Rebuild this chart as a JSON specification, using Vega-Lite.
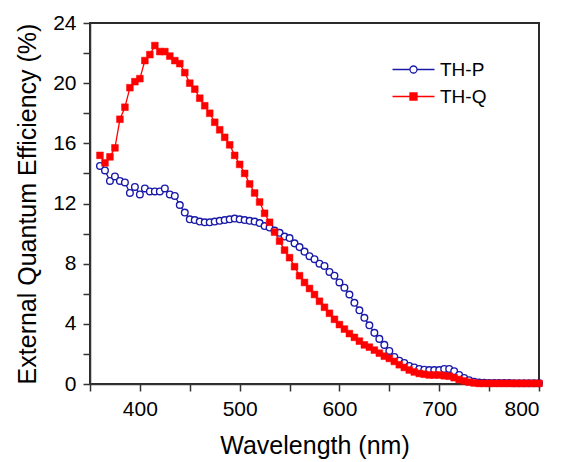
{
  "$schema": "https://vega.github.io/schema/vega-lite/v6.json",
  "width": 449,
  "height": 361,
  "autosize": {"type": "none"},
  "padding": {"left": 90, "top": 23, "right": 22, "bottom": 78},
  "background": "white",
  "config": {
    "view": {"stroke": "#2b2b2b", "strokeWidth": 2},
    "axis": {
      "domainColor": "#333333",
      "domainWidth": 1.5,
      "tickColor": "#333333",
      "tickWidth": 1.5,
      "labelFont": "Liberation Sans",
      "labelFontSize": 21,
      "labelColor": "#000000",
      "titleFont": "Liberation Sans",
      "titleFontSize": 25,
      "titleFontWeight": "normal",
      "titleColor": "#000000"
    }
  },
  "data": {
    "values": [
      {"wl":360,"eqe":14.5,"s":"TH-P"},{"wl":365,"eqe":14.2,"s":"TH-P"},{"wl":370,"eqe":13.5,"s":"TH-P"},{"wl":375,"eqe":13.8,"s":"TH-P"},{"wl":380,"eqe":13.5,"s":"TH-P"},{"wl":385,"eqe":13.4,"s":"TH-P"},{"wl":390,"eqe":12.7,"s":"TH-P"},{"wl":395,"eqe":13.1,"s":"TH-P"},{"wl":400,"eqe":12.6,"s":"TH-P"},{"wl":405,"eqe":13.0,"s":"TH-P"},{"wl":410,"eqe":12.8,"s":"TH-P"},{"wl":415,"eqe":12.8,"s":"TH-P"},{"wl":420,"eqe":12.8,"s":"TH-P"},{"wl":425,"eqe":13.0,"s":"TH-P"},{"wl":430,"eqe":12.6,"s":"TH-P"},{"wl":435,"eqe":12.5,"s":"TH-P"},{"wl":440,"eqe":11.9,"s":"TH-P"},{"wl":445,"eqe":11.4,"s":"TH-P"},{"wl":450,"eqe":10.95,"s":"TH-P"},{"wl":455,"eqe":10.9,"s":"TH-P"},{"wl":460,"eqe":10.8,"s":"TH-P"},{"wl":465,"eqe":10.75,"s":"TH-P"},{"wl":470,"eqe":10.75,"s":"TH-P"},{"wl":475,"eqe":10.8,"s":"TH-P"},{"wl":480,"eqe":10.85,"s":"TH-P"},{"wl":485,"eqe":10.9,"s":"TH-P"},{"wl":490,"eqe":10.95,"s":"TH-P"},{"wl":495,"eqe":11.0,"s":"TH-P"},{"wl":500,"eqe":10.95,"s":"TH-P"},{"wl":505,"eqe":10.9,"s":"TH-P"},{"wl":510,"eqe":10.85,"s":"TH-P"},{"wl":515,"eqe":10.8,"s":"TH-P"},{"wl":520,"eqe":10.7,"s":"TH-P"},{"wl":525,"eqe":10.5,"s":"TH-P"},{"wl":530,"eqe":10.4,"s":"TH-P"},{"wl":535,"eqe":10.2,"s":"TH-P"},{"wl":540,"eqe":10.05,"s":"TH-P"},{"wl":545,"eqe":9.8,"s":"TH-P"},{"wl":550,"eqe":9.7,"s":"TH-P"},{"wl":555,"eqe":9.35,"s":"TH-P"},{"wl":560,"eqe":9.1,"s":"TH-P"},{"wl":565,"eqe":8.8,"s":"TH-P"},{"wl":570,"eqe":8.5,"s":"TH-P"},{"wl":575,"eqe":8.3,"s":"TH-P"},{"wl":580,"eqe":8.0,"s":"TH-P"},{"wl":585,"eqe":7.85,"s":"TH-P"},{"wl":590,"eqe":7.45,"s":"TH-P"},{"wl":595,"eqe":7.2,"s":"TH-P"},{"wl":600,"eqe":6.75,"s":"TH-P"},{"wl":605,"eqe":6.4,"s":"TH-P"},{"wl":610,"eqe":5.95,"s":"TH-P"},{"wl":615,"eqe":5.4,"s":"TH-P"},{"wl":620,"eqe":4.9,"s":"TH-P"},{"wl":625,"eqe":4.4,"s":"TH-P"},{"wl":630,"eqe":3.9,"s":"TH-P"},{"wl":635,"eqe":3.4,"s":"TH-P"},{"wl":640,"eqe":3.0,"s":"TH-P"},{"wl":645,"eqe":2.6,"s":"TH-P"},{"wl":650,"eqe":2.2,"s":"TH-P"},{"wl":655,"eqe":1.8,"s":"TH-P"},{"wl":660,"eqe":1.55,"s":"TH-P"},{"wl":665,"eqe":1.4,"s":"TH-P"},{"wl":670,"eqe":1.2,"s":"TH-P"},{"wl":675,"eqe":1.1,"s":"TH-P"},{"wl":680,"eqe":1.0,"s":"TH-P"},{"wl":685,"eqe":0.95,"s":"TH-P"},{"wl":690,"eqe":0.93,"s":"TH-P"},{"wl":695,"eqe":0.93,"s":"TH-P"},{"wl":700,"eqe":0.93,"s":"TH-P"},{"wl":705,"eqe":1.0,"s":"TH-P"},{"wl":710,"eqe":1.0,"s":"TH-P"},{"wl":715,"eqe":0.85,"s":"TH-P"},{"wl":720,"eqe":0.6,"s":"TH-P"},{"wl":725,"eqe":0.4,"s":"TH-P"},{"wl":730,"eqe":0.25,"s":"TH-P"},{"wl":735,"eqe":0.15,"s":"TH-P"},{"wl":740,"eqe":0.1,"s":"TH-P"},{"wl":745,"eqe":0.08,"s":"TH-P"},{"wl":750,"eqe":0.07,"s":"TH-P"},{"wl":755,"eqe":0.07,"s":"TH-P"},{"wl":760,"eqe":0.06,"s":"TH-P"},{"wl":765,"eqe":0.06,"s":"TH-P"},{"wl":770,"eqe":0.06,"s":"TH-P"},{"wl":775,"eqe":0.05,"s":"TH-P"},{"wl":780,"eqe":0.05,"s":"TH-P"},{"wl":785,"eqe":0.05,"s":"TH-P"},{"wl":790,"eqe":0.05,"s":"TH-P"},{"wl":795,"eqe":0.05,"s":"TH-P"},{"wl":800,"eqe":0.05,"s":"TH-P"},
      {"wl":360,"eqe":15.2,"s":"TH-Q"},{"wl":365,"eqe":14.7,"s":"TH-Q"},{"wl":370,"eqe":15.1,"s":"TH-Q"},{"wl":375,"eqe":15.7,"s":"TH-Q"},{"wl":380,"eqe":17.6,"s":"TH-Q"},{"wl":385,"eqe":18.4,"s":"TH-Q"},{"wl":390,"eqe":19.7,"s":"TH-Q"},{"wl":395,"eqe":20.1,"s":"TH-Q"},{"wl":400,"eqe":20.3,"s":"TH-Q"},{"wl":405,"eqe":21.5,"s":"TH-Q"},{"wl":410,"eqe":21.9,"s":"TH-Q"},{"wl":415,"eqe":22.5,"s":"TH-Q"},{"wl":420,"eqe":22.1,"s":"TH-Q"},{"wl":425,"eqe":22.1,"s":"TH-Q"},{"wl":430,"eqe":21.8,"s":"TH-Q"},{"wl":435,"eqe":21.5,"s":"TH-Q"},{"wl":440,"eqe":21.3,"s":"TH-Q"},{"wl":445,"eqe":20.7,"s":"TH-Q"},{"wl":450,"eqe":20.0,"s":"TH-Q"},{"wl":455,"eqe":19.6,"s":"TH-Q"},{"wl":460,"eqe":19.0,"s":"TH-Q"},{"wl":465,"eqe":18.5,"s":"TH-Q"},{"wl":470,"eqe":18.0,"s":"TH-Q"},{"wl":475,"eqe":17.4,"s":"TH-Q"},{"wl":480,"eqe":16.9,"s":"TH-Q"},{"wl":485,"eqe":16.4,"s":"TH-Q"},{"wl":490,"eqe":15.9,"s":"TH-Q"},{"wl":495,"eqe":15.2,"s":"TH-Q"},{"wl":500,"eqe":14.6,"s":"TH-Q"},{"wl":505,"eqe":14.0,"s":"TH-Q"},{"wl":510,"eqe":13.3,"s":"TH-Q"},{"wl":515,"eqe":12.7,"s":"TH-Q"},{"wl":520,"eqe":12.1,"s":"TH-Q"},{"wl":525,"eqe":11.35,"s":"TH-Q"},{"wl":530,"eqe":10.75,"s":"TH-Q"},{"wl":535,"eqe":10.1,"s":"TH-Q"},{"wl":540,"eqe":9.5,"s":"TH-Q"},{"wl":545,"eqe":8.9,"s":"TH-Q"},{"wl":550,"eqe":8.4,"s":"TH-Q"},{"wl":555,"eqe":7.8,"s":"TH-Q"},{"wl":560,"eqe":7.2,"s":"TH-Q"},{"wl":565,"eqe":6.75,"s":"TH-Q"},{"wl":570,"eqe":6.35,"s":"TH-Q"},{"wl":575,"eqe":5.95,"s":"TH-Q"},{"wl":580,"eqe":5.5,"s":"TH-Q"},{"wl":585,"eqe":5.1,"s":"TH-Q"},{"wl":590,"eqe":4.7,"s":"TH-Q"},{"wl":595,"eqe":4.3,"s":"TH-Q"},{"wl":600,"eqe":3.95,"s":"TH-Q"},{"wl":605,"eqe":3.65,"s":"TH-Q"},{"wl":610,"eqe":3.35,"s":"TH-Q"},{"wl":615,"eqe":3.1,"s":"TH-Q"},{"wl":620,"eqe":2.85,"s":"TH-Q"},{"wl":625,"eqe":2.6,"s":"TH-Q"},{"wl":630,"eqe":2.45,"s":"TH-Q"},{"wl":635,"eqe":2.25,"s":"TH-Q"},{"wl":640,"eqe":2.05,"s":"TH-Q"},{"wl":645,"eqe":1.85,"s":"TH-Q"},{"wl":650,"eqe":1.7,"s":"TH-Q"},{"wl":655,"eqe":1.5,"s":"TH-Q"},{"wl":660,"eqe":1.28,"s":"TH-Q"},{"wl":665,"eqe":1.1,"s":"TH-Q"},{"wl":670,"eqe":0.93,"s":"TH-Q"},{"wl":675,"eqe":0.8,"s":"TH-Q"},{"wl":680,"eqe":0.7,"s":"TH-Q"},{"wl":685,"eqe":0.65,"s":"TH-Q"},{"wl":690,"eqe":0.6,"s":"TH-Q"},{"wl":695,"eqe":0.6,"s":"TH-Q"},{"wl":700,"eqe":0.6,"s":"TH-Q"},{"wl":705,"eqe":0.55,"s":"TH-Q"},{"wl":710,"eqe":0.52,"s":"TH-Q"},{"wl":715,"eqe":0.42,"s":"TH-Q"},{"wl":720,"eqe":0.3,"s":"TH-Q"},{"wl":725,"eqe":0.2,"s":"TH-Q"},{"wl":730,"eqe":0.12,"s":"TH-Q"},{"wl":735,"eqe":0.07,"s":"TH-Q"},{"wl":740,"eqe":0.04,"s":"TH-Q"},{"wl":745,"eqe":0.04,"s":"TH-Q"},{"wl":750,"eqe":0.04,"s":"TH-Q"},{"wl":755,"eqe":0.04,"s":"TH-Q"},{"wl":760,"eqe":0.04,"s":"TH-Q"},{"wl":765,"eqe":0.04,"s":"TH-Q"},{"wl":770,"eqe":0.04,"s":"TH-Q"},{"wl":775,"eqe":0.04,"s":"TH-Q"},{"wl":780,"eqe":0.04,"s":"TH-Q"},{"wl":785,"eqe":0.04,"s":"TH-Q"},{"wl":790,"eqe":0.04,"s":"TH-Q"},{"wl":795,"eqe":0.04,"s":"TH-Q"},{"wl":800,"eqe":0.04,"s":"TH-Q"}
    ]
  },
  "encoding": {
    "x": {
      "field": "wl", "type": "quantitative",
      "scale": {"domain": [350, 800], "nice": false, "zero": false},
      "axis": {
        "title": "Wavelength (nm)",
        "grid": false,
        "values": [350, 400, 450, 500, 550, 600, 650, 700, 750, 800],
        "labelExpr": "datum.value % 100 === 0 ? datum.label : ''",
        "tickSize": 7,
        "labelPadding": 7,
        "titlePadding": 14
      }
    },
    "y": {
      "field": "eqe", "type": "quantitative",
      "scale": {"domain": [0, 24], "nice": false},
      "axis": {
        "title": "External Quantum Efficiency (%)",
        "grid": false,
        "values": [0, 2, 4, 6, 8, 10, 12, 14, 16, 18, 20, 22, 24],
        "labelExpr": "datum.value % 4 === 0 ? datum.label : ''",
        "tickSize": 7,
        "labelPadding": 7,
        "titlePadding": 12
      }
    }
  },
  "layer": [
    {
      "mark": {"type": "line", "strokeWidth": 1.3},
      "encoding": {
        "stroke": {
          "field": "s", "type": "nominal",
          "scale": {"domain": ["TH-P", "TH-Q"], "range": ["#1a1aa8", "#ff0000"]},
          "legend": {
            "orient": "none",
            "legendX": 298,
            "legendY": 37,
            "title": null,
            "padding": 0,
            "labelFont": "Liberation Sans",
            "labelFontSize": 19,
            "labelColor": "#000000",
            "symbolSize": 100,
            "symbolStrokeWidth": 1.3,
            "symbolOffset": 16,
            "labelOffset": 17,
            "rowPadding": 7,
            "encode": {
              "symbols": {
                "update": {
                  "shape": {"signal": "datum.value === 'TH-P' ? 'M-4.2,0H-0.7M0.7,0H4.2M0.7,0A0.7,0.7 0 1,1 -0.7,0A0.7,0.7 0 1,1 0.7,0Z' : 'M-4.2,0H4.2M-0.7,-0.7H0.7V0.7H-0.7Z'"},
                  "fill": {"signal": "datum.value === 'TH-P' ? '#ffffff' : '#ff0000'"},
                  "fillOpacity": {"value": 1},
                  "opacity": {"value": 1}
                }
              }
            }
          }
        }
      }
    },
    {
      "transform": [{"filter": "datum.s === 'TH-P'"}],
      "mark": {"type": "point", "shape": "circle", "filled": false, "fill": "#ffffff", "stroke": "#1a1aa8", "strokeWidth": 1.4, "size": 44, "opacity": 1}
    },
    {
      "transform": [{"filter": "datum.s === 'TH-Q'"}],
      "mark": {"type": "point", "shape": "square", "filled": true, "fill": "#ff0000", "stroke": "#ff0000", "strokeWidth": 0.5, "size": 46, "opacity": 1}
    }
  ]
}
